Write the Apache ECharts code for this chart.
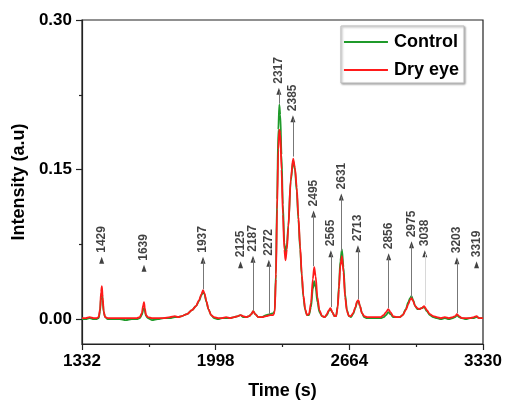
<!DOCTYPE html>
<html>
<head>
<meta charset="utf-8">
<script src="https://cdn.jsdelivr.net/npm/echarts@6/dist/echarts.min.js"></script>
<style>
html,body{margin:0;padding:0;background:#fff;}
#chart{width:506px;height:405px;}
</style>
</head>
<body>
<div id="chart"></div>
<script>
// ---- Data ----
const times = [1332,1350,1370,1390,1405,1415,1422,1427,1431,1435,1440,1447,1460,1490,1520,1550,1580,1605,1620,1630,1637,1641,1645,1651,1660,1680,1710,1740,1770,1795,1810,1830,1855,1880,1900,1915,1927,1935,1942,1952,1962,1975,1990,2010,2030,2050,2070,2090,2110,2122,2135,2150,2165,2176,2185,2195,2210,2230,2250,2270,2285,2292,2298,2304,2310,2315,2320,2326,2333,2340,2346,2353,2360,2372,2384,2393,2402,2410,2419,2427,2435,2444,2453,2463,2473,2482,2489,2496,2505,2515,2528,2542,2552,2562,2570,2579,2590,2598,2606,2612,2619,2627,2635,2643,2652,2662,2672,2683,2694,2703,2709,2717,2727,2738,2752,2775,2800,2820,2835,2847,2858,2869,2882,2898,2915,2930,2945,2958,2966,2974,2982,2992,3003,3012,3024,3037,3050,3065,3082,3100,3120,3140,3160,3180,3192,3200,3210,3225,3245,3265,3285,3298,3310,3330];
const dryEye = [0.001,0.001,0.002,0.001,0.001,0.002,0.010,0.027,0.033,0.022,0.008,0.002,0.001,0.001,0.001,0.001,0.001,0.001,0.002,0.006,0.014,0.017,0.011,0.004,0.002,0.001,0.001,0.001,0.002,0.003,0.002,0.003,0.005,0.009,0.013,0.019,0.025,0.029,0.026,0.018,0.010,0.004,0.002,0.001,0.001,0.002,0.001,0.002,0.003,0.004,0.003,0.002,0.003,0.005,0.008,0.005,0.002,0.002,0.003,0.004,0.004,0.007,0.040,0.110,0.170,0.190,0.186,0.150,0.105,0.070,0.059,0.070,0.092,0.140,0.161,0.152,0.132,0.103,0.073,0.045,0.024,0.010,0.004,0.005,0.016,0.040,0.052,0.043,0.022,0.009,0.003,0.002,0.005,0.009,0.011,0.007,0.003,0.003,0.012,0.030,0.053,0.063,0.047,0.022,0.008,0.003,0.003,0.006,0.012,0.018,0.019,0.013,0.006,0.003,0.002,0.002,0.002,0.002,0.004,0.007,0.010,0.007,0.003,0.002,0.002,0.004,0.009,0.015,0.019,0.021,0.018,0.013,0.011,0.010,0.011,0.013,0.009,0.005,0.003,0.002,0.001,0.002,0.001,0.002,0.003,0.005,0.003,0.001,0.001,0.001,0.002,0.003,0.001,0.001];
const control = [0.000,0.000,0.001,0.000,0.000,0.001,0.008,0.022,0.027,0.019,0.007,0.002,0.000,0.000,0.000,-0.001,0.000,0.000,0.001,0.004,0.009,0.011,0.008,0.003,0.001,-0.001,0.000,0.001,0.001,0.002,0.002,0.003,0.005,0.009,0.013,0.018,0.024,0.027,0.025,0.017,0.010,0.004,0.001,0.000,0.001,0.001,0.001,0.002,0.003,0.004,0.002,0.002,0.003,0.005,0.008,0.005,0.002,0.002,0.004,0.005,0.006,0.008,0.045,0.120,0.190,0.215,0.205,0.165,0.115,0.077,0.065,0.075,0.094,0.138,0.159,0.150,0.128,0.100,0.070,0.043,0.022,0.009,0.004,0.004,0.012,0.030,0.038,0.032,0.017,0.007,0.003,0.002,0.004,0.008,0.010,0.007,0.003,0.003,0.013,0.033,0.058,0.070,0.052,0.025,0.009,0.003,0.002,0.005,0.011,0.017,0.018,0.013,0.006,0.002,0.001,0.001,0.001,0.001,0.002,0.004,0.007,0.005,0.002,0.002,0.002,0.004,0.010,0.017,0.021,0.023,0.019,0.013,0.010,0.010,0.011,0.012,0.008,0.004,0.002,0.001,0.000,0.001,0.000,0.001,0.002,0.004,0.002,0.001,0.000,0.001,0.001,0.002,0.001,0.001];

// Peak annotations: label, time, arrow level, line end level (null = arrow only)
const annLabels = ['1429','1639','1937','2125','2187','2272','2317','2385','2495','2565','2631','2713','2856','2975','3038','3203','3319'];
const annTimes  = [1430,1641,1935,2122,2184,2263,2313,2383,2486,2572,2624,2707,2860,2974,3040,3200,3298];
const annArrowY = [0.059,0.051,0.059,0.0545,0.060,0.056,0.2285,0.201,0.1055,0.0655,0.1225,0.0705,0.0625,0.0745,0.0655,0.0585,0.0545];
const annLineEnd = [null,null,0.030,null,0.009,0.005,0.216,0.163,0.053,0.012,0.068,0.020,0.011,0.022,0.014,0.006,null];

const xMajorTicks = [1332,1998,2664,3330];
const xMinorTicks = [1665,2331,2997];
const yMajorTicks = [0,0.15,0.30];
const yMinorTicks = [0.075,0.225];

// ---- Build ----
const FONT = '"Liberation Sans", Arial, sans-serif';
const controlData = times.map((t,i)=>[t,control[i]]);
const dryData = times.map((t,i)=>[t,dryEye[i]]);
const annData = annTimes.map((t,i)=>({value:[t,annArrowY[i]], name:annLabels[i]}));
const annLines = [];
annTimes.forEach((t,i)=>{
  if (annLineEnd[i] !== null) {
    annLines.push([
      {coord:[t,annArrowY[i]], lineStyle:{color: annLabels[i]==='3038' ? '#d8d8d8' : '#777'}},
      {coord:[t,annLineEnd[i]]}
    ]);
  }
});

const chart = echarts.init(document.getElementById('chart'), null, {renderer:'canvas'});
const xCommon = {type:'value', min:1332, max:3330, splitLine:{show:false}};
const yCommon = {type:'value', min:-0.025, max:0.30, splitLine:{show:false}};
chart.setOption({
  animation:false,
  backgroundColor:'#fff',
  grid:{left:82, right:23, top:20, bottom:60, show:true, borderColor:'#222', borderWidth:1.2, backgroundColor:'transparent'},
  legend:{
    data:[{name:'Control', icon:'rect'},{name:'Dry eye', icon:'rect'}],
    orient:'vertical', right:42, top:26,
    itemWidth:44, itemHeight:2, itemGap:8,
    padding:[6,5,3,3],
    borderColor:'#bbb', borderWidth:1,
    backgroundColor:'#fff',
    shadowColor:'rgba(0,0,0,0.35)', shadowBlur:2, shadowOffsetX:1, shadowOffsetY:1,
    textStyle:{fontFamily:FONT, fontWeight:'bold', fontSize:18, color:'#000', padding:[0,0,0,1], lineHeight:20}
  },
  xAxis:[
    Object.assign({}, xCommon, {
      position:'bottom',
      name:'Time (s)', nameLocation:'middle', nameGap:38,
      nameTextStyle:{fontFamily:FONT, fontWeight:'bold', fontSize:18, color:'#000'},
      axisLine:{show:true, onZero:false, lineStyle:{color:'#222', width:1.2}},
      axisTick:{show:true, inside:false, length:6, customValues:xMajorTicks, lineStyle:{color:'#222', width:1.2}},
      axisLabel:{show:true, customValues:xMajorTicks, margin:9, formatter:v=>String(v), fontFamily:FONT, fontWeight:'bold', fontSize:17, color:'#000'}
    }),
    Object.assign({}, xCommon, {
      position:'bottom',
      axisLine:{show:false, onZero:false},
      axisTick:{show:true, inside:false, length:3, customValues:xMinorTicks, lineStyle:{color:'#222', width:1.2}},
      axisLabel:{show:false}
    })
  ],
  yAxis:[
    Object.assign({}, yCommon, {
      position:'left',
      name:'Intensity (a.u)', nameLocation:'middle', nameGap:50, nameRotate:90,
      nameTextStyle:{fontFamily:FONT, fontWeight:'bold', fontSize:18, color:'#000'},
      axisLine:{show:true, onZero:false, lineStyle:{color:'#222', width:1.2}},
      axisTick:{show:true, inside:false, length:6, customValues:yMajorTicks, lineStyle:{color:'#222', width:1.2}},
      axisLabel:{show:true, customValues:yMajorTicks, margin:10, formatter:v=>v.toFixed(2), fontFamily:FONT, fontWeight:'bold', fontSize:17, color:'#000'}
    }),
    Object.assign({}, yCommon, {
      position:'left',
      axisLine:{show:false, onZero:false},
      axisTick:{show:true, inside:false, length:3, customValues:yMinorTicks, lineStyle:{color:'#222', width:1.2}},
      axisLabel:{show:false}
    })
  ],
  series:[
    {
      name:'Control', type:'line', xAxisIndex:0, yAxisIndex:0,
      data:controlData, symbol:'none', smooth:0.3, smoothMonotone:'x',
      lineStyle:{color:'#1f9a2a', width:1.8}, itemStyle:{color:'#1f9a2a'}, z:2
    },
    {
      name:'Dry eye', type:'line', xAxisIndex:0, yAxisIndex:0,
      data:dryData, symbol:'none', smooth:0.3, smoothMonotone:'x',
      lineStyle:{color:'#ff1a1a', width:1.8}, itemStyle:{color:'#ff1a1a'}, z:3
    },
    {
      name:'peaks', type:'scatter', xAxisIndex:0, yAxisIndex:0,
      data:annData, symbol:'triangle', symbolSize:[5,7],
      itemStyle:{color:'#111'}, z:4, silent:true,
      label:{
        show:true, position:'top', distance:4, rotate:90,
        align:'left', verticalAlign:'middle',
        formatter:p=>p.name,
        fontFamily:FONT, fontWeight:'bold', fontSize:12, color:'#111'
      },
      markLine:{
        silent:true, symbol:['none','none'], animation:false,
        label:{show:false},
        lineStyle:{type:'solid', width:1, color:'#777'},
        emphasis:{disabled:true},
        data:annLines
      }
    }
  ]
});
</script>
</body>
</html>
